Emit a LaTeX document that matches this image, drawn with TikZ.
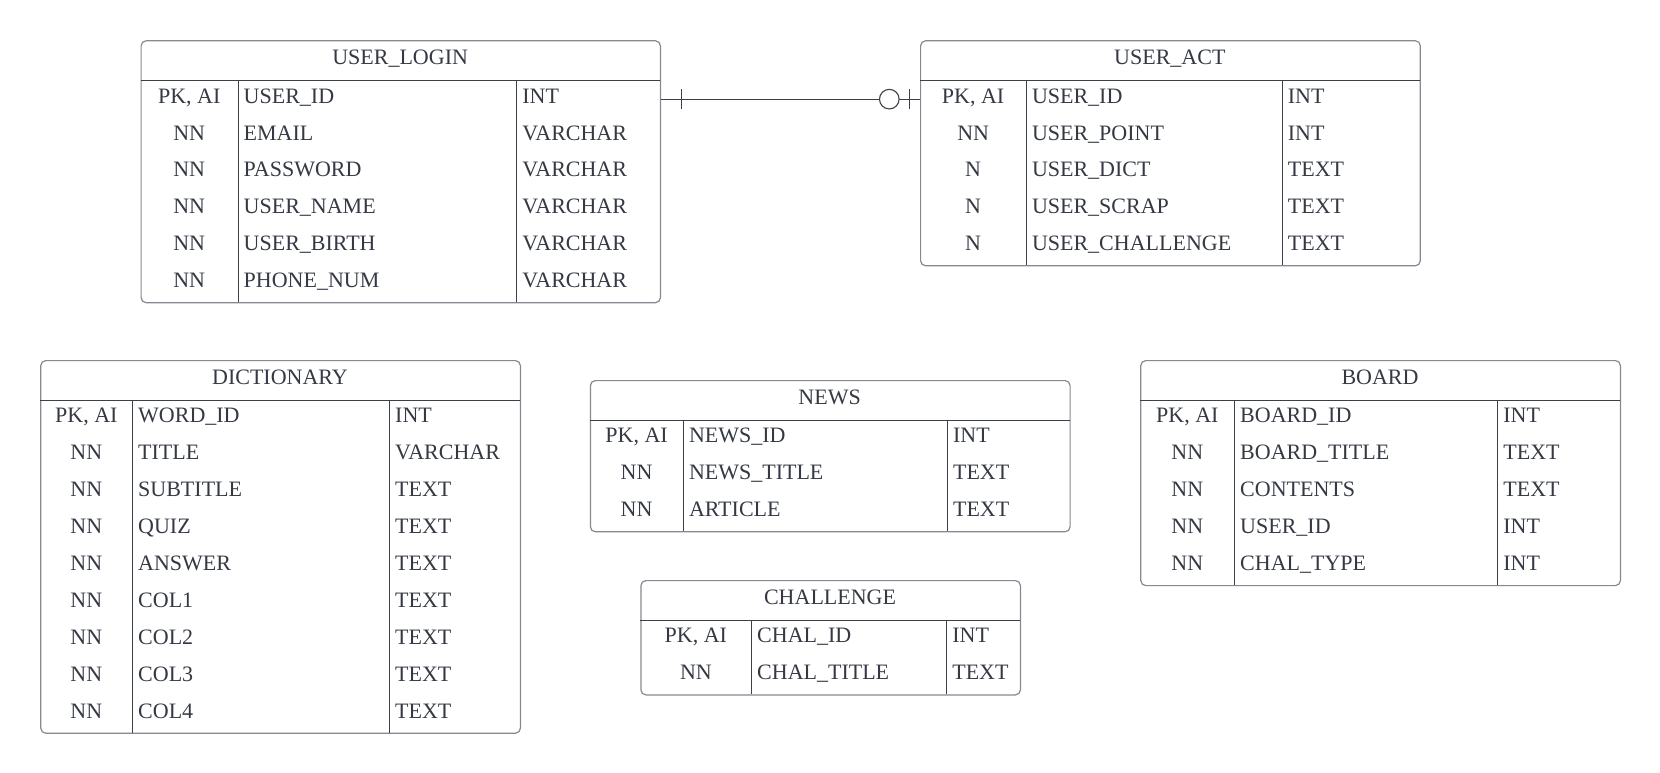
\documentclass[tikz,border=0pt]{standalone}
\usepackage{fontspec}
\setmainfont{Liberation Serif}
\usetikzlibrary{calc}

\definecolor{framegray}{HTML}{858991}
\definecolor{linedark}{HTML}{3B4049}
\definecolor{inktext}{HTML}{343943}

\tikzset{
  tableframe/.style={draw=framegray, line width=1.2pt, rounded corners=5pt,
    inner sep=0pt, fill=white},
  rowline/.style={draw=linedark, line width=1pt},
  celltext/.style={inner sep=0pt, text=inktext,
    font=\fontsize{22}{26}\selectfont},
  relline/.style={draw=linedark, line width=1.1pt},
}

% \erdtable{id}{left}{top}{right}{col1}{col2}{rows}{title}{key/field/type,...}
\newcommand\erdtable[9]{%
  \pgfmathsetmacro\tbot{#3+40.5+#7*36.9}%
  \node[tableframe, anchor=north west,
        minimum width={#4-#2}, minimum height={\tbot-#3}] (#1) at (#2,#3) {};
  \node[celltext, anchor=base] (#1-title) at ({(#2+#4)/2},{#3+20.25+4}) {#8};
  \draw[rowline] (#2,{#3+40.5}) -- (#4,{#3+40.5});
  \draw[rowline] (#5,{#3+40.5}) -- (#5,\tbot);
  \draw[rowline] (#6,{#3+40.5}) -- (#6,\tbot);
  \foreach \k/\f/\t [count=\i] in {#9} {
    \pgfmathsetmacro\yc{#3+40.5+(\i-0.5)*36.9}
    \coordinate (#1-r\i) at ({(#2+#4)/2},\yc);
    \node[celltext, anchor=base] (#1-k\i) at ({(#2+#5)/2},{\yc+4}) {\k};
    \node[celltext, anchor=base west] (#1-f\i) at ({#5+5.5},{\yc+4}) {\f};
    \node[celltext, anchor=base west] (#1-t\i) at ({#6+5.5},{\yc+4}) {\t};
  }%
}

\begin{document}
\begin{tikzpicture}[x=1pt,y=-1pt]
  \useasboundingbox (0,0) rectangle (1660,773);

  \erdtable{login}{140.5}{40.2}{659.8}{238}{516.6}{6}{USER\_LOGIN}{
    {PK, AI}/USER\_ID/INT,
    NN/EMAIL/VARCHAR,
    NN/PASSWORD/VARCHAR,
    NN/USER\_NAME/VARCHAR,
    NN/USER\_BIRTH/VARCHAR,
    NN/PHONE\_NUM/VARCHAR}

  \erdtable{act}{920}{40.2}{1419.7}{1026.3}{1282.2}{5}{USER\_ACT}{
    {PK, AI}/USER\_ID/INT,
    NN/USER\_POINT/INT,
    N/USER\_DICT/TEXT,
    N/USER\_SCRAP/TEXT,
    N/USER\_CHALLENGE/TEXT}

  \erdtable{dict}{40.2}{360}{519.8}{132.5}{389.5}{9}{DICTIONARY}{
    {PK, AI}/WORD\_ID/INT,
    NN/TITLE/VARCHAR,
    NN/SUBTITLE/TEXT,
    NN/QUIZ/TEXT,
    NN/ANSWER/TEXT,
    NN/COL1/TEXT,
    NN/COL2/TEXT,
    NN/COL3/TEXT,
    NN/COL4/TEXT}

  \erdtable{news}{589.8}{380}{1069.5}{683.3}{947.4}{3}{NEWS}{
    {PK, AI}/NEWS\_ID/INT,
    NN/NEWS\_TITLE/TEXT,
    NN/ARTICLE/TEXT}

  \erdtable{chal}{640.3}{580}{1019.8}{751.5}{946.6}{2}{CHALLENGE}{
    {PK, AI}/CHAL\_ID/INT,
    NN/CHAL\_TITLE/TEXT}

  \erdtable{board}{1140.2}{360}{1619.8}{1234.5}{1497.7}{5}{BOARD}{
    {PK, AI}/BOARD\_ID/INT,
    NN/BOARD\_TITLE/TEXT,
    NN/CONTENTS/TEXT,
    NN/USER\_ID/INT,
    NN/CHAL\_TYPE/INT}

  % one-to-zero-or-one link between the two USER_ID keys
  \coordinate (relA) at (login.east |- login-r1);
  \coordinate (relB) at (act.west |- act-r1);
  \draw[relline] (relA) -- (relB);
  \draw[relline] ($(relA)+(20.5,-9.7)$) -- ($(relA)+(20.5,9.7)$);
  \draw[relline] ($(relB)+(-10.7,-9.7)$) -- ($(relB)+(-10.7,9.7)$);
  \draw[relline, fill=white] ($(relB)+(-30.7,0)$) circle[radius=9.8pt];
\end{tikzpicture}
\end{document}
